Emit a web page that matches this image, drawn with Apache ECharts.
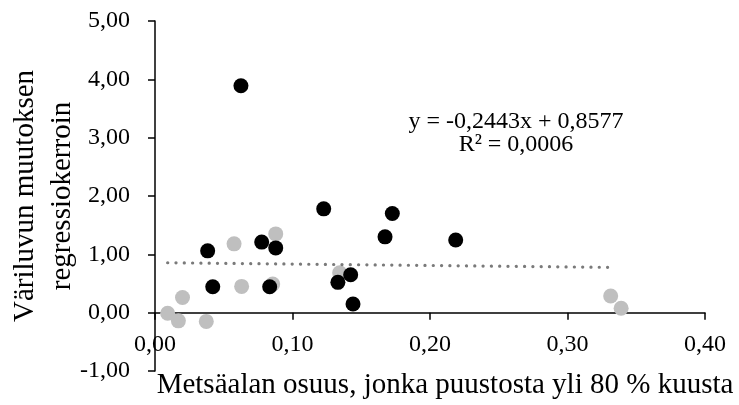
<!DOCTYPE html>
<html>
<head>
<meta charset="utf-8">
<script src="https://cdn.jsdelivr.net/npm/echarts@6/dist/echarts.min.js"></script>
<style>
  html, body { margin: 0; padding: 0; background: #fff; }
  #chart { width: 739px; height: 405px; }
</style>
</head>
<body>
<div id="chart"></div>
<script>
// mustat pisteet
var blackX = [0.0383, 0.042, 0.0776, 0.0878, 0.0834, 0.1227, 0.133, 0.1423, 0.144, 0.1673, 0.1726, 0.2187, 0.0625];
var blackY = [1.06, 0.445, 1.21, 1.11, 0.445, 1.78, 0.52, 0.65, 0.149, 1.30, 1.70, 1.245, 3.89];
// harmaat pisteet
var greyX = [0.0092, 0.017, 0.020, 0.0373, 0.0575, 0.063, 0.0878, 0.0856, 0.1343, 0.3314, 0.339];
var greyY = [-0.01, -0.14, 0.26, -0.15, 1.18, 0.45, 1.35, 0.49, 0.685, 0.286, 0.075];
// trendiviiva y = -0,2443x + 0,8577
var trendSlope = -0.2443;
var trendIntercept = 0.8577;
var trendX = [0.0092, 0.334];

function pairs(xs, ys) {
  var out = [];
  for (var i = 0; i < xs.length; i++) {
    out.push([xs[i], ys[i]]);
  }
  return out;
}

function fmt(v) {
  return v.toFixed(2).replace('.', ',');
}

var trendData = trendX.map(function(x) {
  return [x, trendSlope * x + trendIntercept];
});

var font = '"Liberation Serif", serif';

var chart = echarts.init(document.getElementById('chart'));
var option = {
  animation: false,
  grid: { left: 155, right: 34, top: 21, bottom: 34, outerBoundsMode: 'none', containLabel: false },
  xAxis: {
    type: 'value',
    min: 0,
    max: 0.4,
    interval: 0.1,
    name: 'Metsäalan osuus, jonka puustosta yli 80 % kuusta',
    nameLocation: 'middle',
    nameGap: 0,
    nameMoveOverlap: false,
    nameTextStyle: { fontFamily: font, fontSize: 29, color: '#000', padding: [0, 0, 0, 30] },
    axisLine: { onZero: true, lineStyle: { color: '#000', width: 1.5 } },
    axisTick: { show: true, inside: false, length: 7, lineStyle: { color: '#000', width: 1.5 } },
    // tikkien tekstit sijoittuvat ruudukon alareunan mukaan, siksi negatiivinen marginaali
    axisLabel: { formatter: fmt, fontFamily: font, fontSize: 24, color: '#000', margin: -38 },
    splitLine: { show: false }
  },
  yAxis: {
    type: 'value',
    min: -1,
    max: 5,
    interval: 1,
    name: 'Väriluvun muutoksen\nregressiokerroin',
    nameLocation: 'middle',
    nameGap: 74,
    nameMoveOverlap: false,
    nameTextStyle: { fontFamily: font, fontSize: 29, color: '#000', lineHeight: 37 },
    axisLine: { show: true, onZero: false, lineStyle: { color: '#000', width: 1.5 } },
    axisTick: { show: true, inside: false, length: 7, lineStyle: { color: '#000', width: 1.5 } },
    axisLabel: { formatter: fmt, fontFamily: font, fontSize: 24, color: '#000', margin: 25 },
    splitLine: { show: false }
  },
  graphic: [
    {
      type: 'text',
      x: 516,
      y: 110,
      style: { text: 'y = -0,2443x + 0,8577', align: 'center', verticalAlign: 'top', font: '24px "Liberation Serif", serif', fill: '#000' }
    },
    {
      type: 'text',
      x: 516,
      y: 133,
      style: { text: 'R² = 0,0006', align: 'center', verticalAlign: 'top', font: '24px "Liberation Serif", serif', fill: '#000' }
    }
  ],
  series: [
    {
      name: 'harmaa',
      type: 'scatter',
      symbolSize: 15,
      itemStyle: { color: '#bfbfbf', opacity: 1 },
      data: pairs(greyX, greyY),
      z: 2
    },
    {
      name: 'trendi',
      type: 'line',
      data: trendData,
      symbol: 'none',
      lineStyle: { color: '#7a7a7a', width: 3.2, type: [0.1, 8.2], cap: 'round' },
      z: 3
    },
    {
      name: 'musta',
      type: 'scatter',
      symbolSize: 15,
      itemStyle: { color: '#000', opacity: 1 },
      data: pairs(blackX, blackY),
      z: 4
    }
  ]
};
chart.setOption(option);
</script>
</body>
</html>
